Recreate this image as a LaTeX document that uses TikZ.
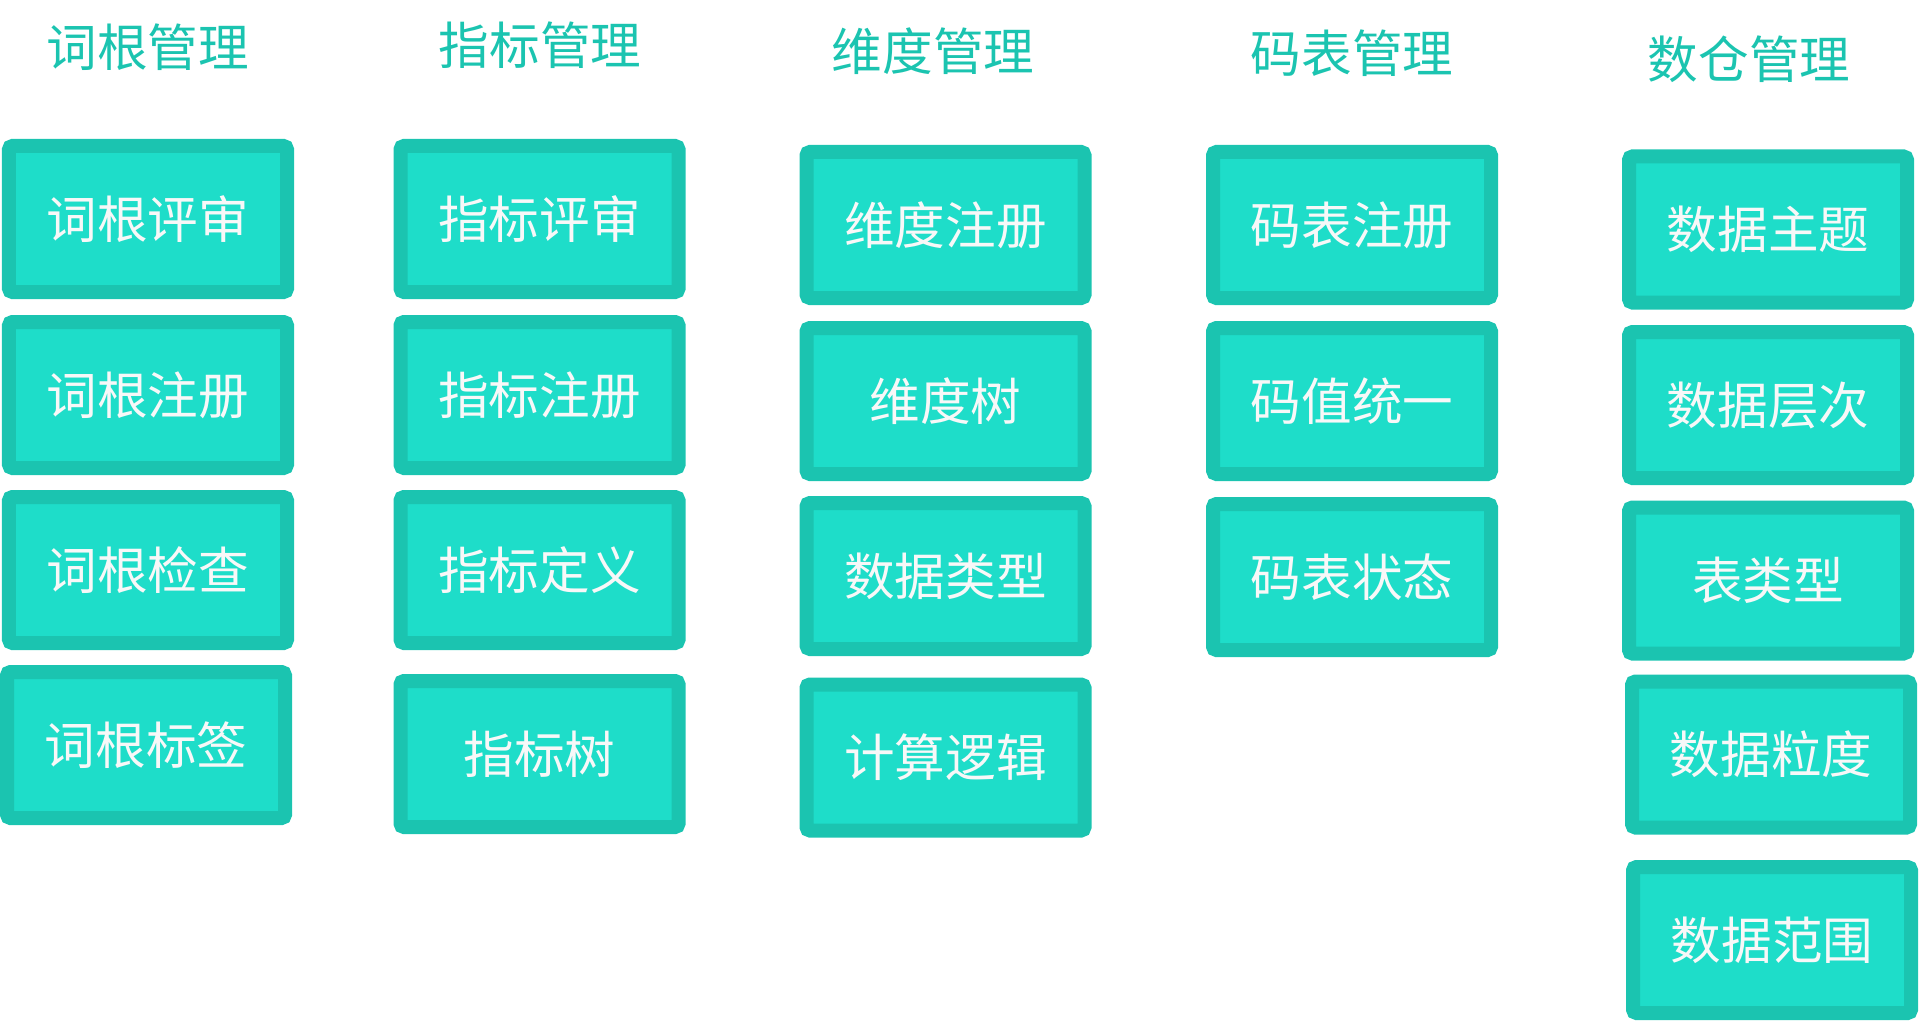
\documentclass[tikz,border=0pt]{standalone}
\usepackage{fontspec}
\usepackage{tikz}
\setmainfont{Noto Sans CJK SC}
\definecolor{myteal}{RGB}{27,196,176}
\definecolor{hdrteal}{RGB}{30,221,201}
\definecolor{mywhite}{RGB}{248,248,248}
\tikzset{
  block/.style={rectangle, draw=myteal, fill=hdrteal,
    minimum width=2.78cm, minimum height=1.46cm, inner sep=0pt,
    text=mywhite, font=\fontsize{14.4pt}{18pt}\selectfont,
    rounded corners=1pt, line width=0.14cm},
  title/.style={text=myteal, font=\fontsize{14.4pt}{18pt}\selectfont}
}

\begin{document}
\begin{tikzpicture}[x=1cm, y=-1cm]
  \useasboundingbox (0,0) rectangle (19.2,10.22);

  % 词根管理
  \node[title] (tcg) at (1.48,0.47) {词根管理};
  \node[block] (cg1) at (1.48,2.19) {词根评审};
  \node[block] (cg2) at (1.48,3.95) {词根注册};
  \node[block] (cg3) at (1.48,5.70) {词根检查};
  \node[block] (cg4) at (1.46,7.45) {词根标签};

  % 指标管理
  \node[title] (tzb) at (5.40,0.45) {指标管理};
  \node[block] (zb1) at (5.395,2.19) {指标评审};
  \node[block] (zb2) at (5.395,3.95) {指标注册};
  \node[block] (zb3) at (5.395,5.70) {指标定义};
  \node[block] (zb4) at (5.395,7.54) {指标树};

  % 维度管理
  \node[title] (twd) at (9.33,0.51) {维度管理};
  \node[block] (wd1) at (9.455,2.25) {维度注册};
  \node[block] (wd2) at (9.455,4.01) {维度树};
  \node[block] (wd3) at (9.455,5.76) {数据类型};
  \node[block] (wd4) at (9.455,7.575) {计算逻辑};

  % 码表管理
  \node[title] (tmb) at (13.52,0.53) {码表管理};
  \node[block] (mb1) at (13.52,2.25) {码表注册};
  \node[block] (mb2) at (13.52,4.01) {码值统一};
  \node[block] (mb3) at (13.52,5.77) {码表状态};

  % 数仓管理
  \node[title] (tsc) at (17.49,0.59) {数仓管理};
  \node[block] (sc1) at (17.68,2.295) {数据主题};
  \node[block] (sc2) at (17.68,4.05) {数据层次};
  \node[block] (sc3) at (17.68,5.805) {表类型};
  \node[block] (sc4) at (17.71,7.545) {数据粒度};
  \node[block] (sc5) at (17.72,9.40) {数据范围};
\end{tikzpicture}
\end{document}
